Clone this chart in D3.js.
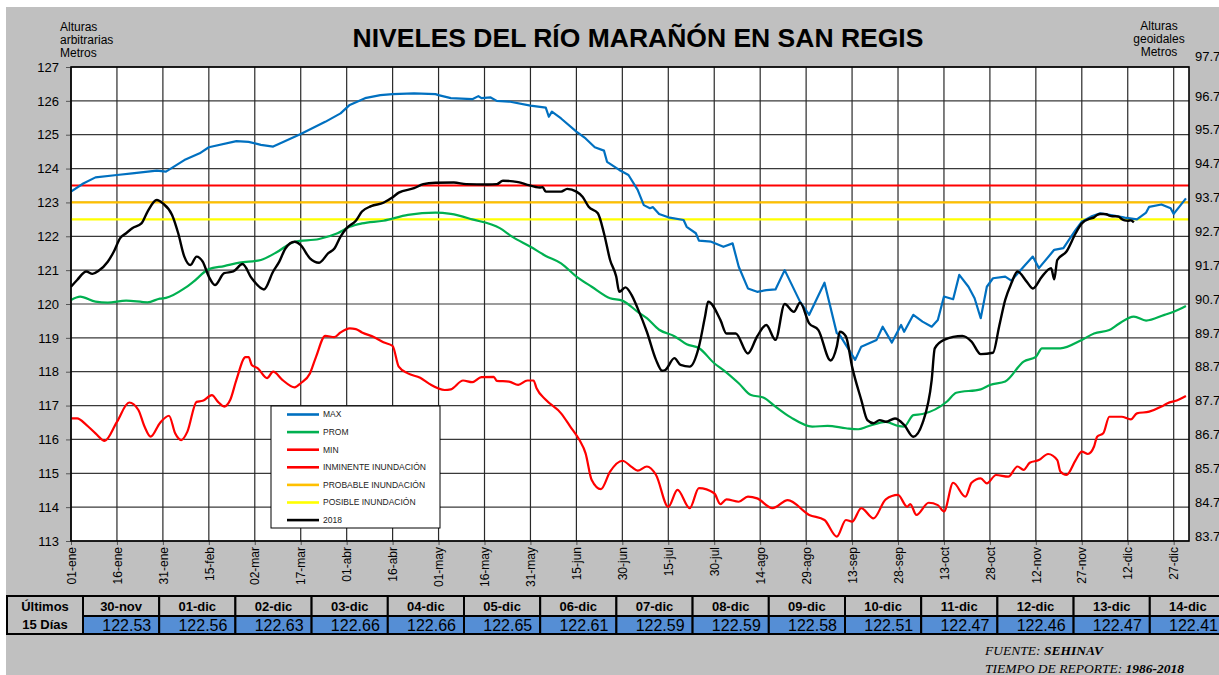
<!DOCTYPE html>
<html>
<head>
<meta charset="utf-8">
<script src="https://cdnjs.cloudflare.com/ajax/libs/d3/7.8.5/d3.min.js"></script>
<style>
  body { margin: 0; background: #fff; }
  svg { display: block; font-family: "Liberation Sans", Arial, sans-serif; }
</style>
</head>
<body>
<svg id="chart" width="1219" height="675"></svg>
<script>
// niveles diarios: [dia del año, nivel (m)]
const serieMax = [[0,123.32],[4,123.56],[8,123.74],[15,123.81],[20,123.86],[28,123.94],[31,123.91],[37,124.25],[42,124.45],[45,124.63],[54,124.81],[58,124.79],[62,124.70],[66,124.65],[68,124.73],[75,125.02],[83,125.38],[88,125.63],[91,125.88],[96,126.08],[101,126.17],[105,126.20],[112,126.22],[119,126.20],[120,126.17],[124,126.08],[131,126.05],[133,126.14],[134,126.08],[137,126.10],[139,126.00],[143,125.98],[150,125.86],[155,125.80],[156,125.53],[157,125.68],[160,125.48],[165,125.09],[168,124.89],[171,124.63],[174,124.53],[175,124.20],[179,123.96],[182,123.81],[185,123.37],[187,122.92],[189,122.83],[190,122.86],[192,122.66],[195,122.56],[200,122.48],[201,122.28],[204,122.09],[205,121.87],[209,121.84],[213,121.69],[216,121.79],[218,121.10],[221,120.46],[224,120.36],[227,120.41],[230,120.43],[233,121.00],[238,120.07],[241,119.68],[246,120.63],[250,119.14],[251,119.08],[256,118.35],[258,118.74],[263,118.94],[265,119.33],[268,118.86],[271,119.38],[272,119.18],[275,119.68],[278,119.48],[281,119.33],[283,119.53],[285,120.22],[288,120.14],[290,120.86],[293,120.51],[295,120.17],[297,119.58],[299,120.51],[301,120.76],[305,120.81],[307,120.69],[311,121.10],[314,121.40],[316,121.06],[321,121.60],[324,121.65],[328,122.19],[330,122.43],[333,122.58],[336,122.68],[340,122.62],[344,122.55],[348,122.50],[351,122.70],[352,122.87],[356,122.94],[359,122.83],[360,122.66],[364,123.12]];

const serieProm = [[0,120.12],[3,120.22],[8,120.07],[12,120.04],[18,120.10],[25,120.05],[29,120.16],[31,120.18],[37,120.46],[40,120.66],[45,121.03],[50,121.12],[55,121.22],[62,121.30],[67,121.52],[73,121.84],[81,121.92],[87,122.09],[91,122.28],[95,122.38],[102,122.46],[110,122.63],[119,122.70],[124,122.66],[131,122.50],[140,122.24],[144,121.99],[150,121.69],[155,121.42],[160,121.20],[165,120.81],[170,120.51],[176,120.17],[180,120.10],[185,119.77],[188,119.58],[192,119.24],[197,119.05],[201,118.81],[205,118.70],[210,118.25],[213,118.05],[218,117.66],[222,117.31],[226,117.24],[230,116.97],[235,116.65],[242,116.38],[247,116.40],[253,116.33],[257,116.30],[260,116.38],[266,116.52],[270,116.40],[272,116.38],[275,116.72],[278,116.75],[286,117.12],[289,117.38],[297,117.48],[300,117.61],[305,117.71],[311,118.30],[315,118.44],[317,118.69],[323,118.69],[330,118.94],[334,119.13],[339,119.23],[342,119.41],[347,119.63],[351,119.51],[357,119.68],[360,119.77],[364,119.94]];

const serieMin = [[0,116.62],[2,116.62],[5,116.43],[8,116.18],[11,115.96],[15,116.52],[19,117.09],[22,116.87],[24,116.38],[26,116.08],[29,116.48],[32,116.70],[34,116.18],[36,115.98],[38,116.23],[41,117.11],[43,117.14],[46,117.31],[48,117.11],[50,116.97],[52,117.17],[54,117.76],[57,118.43],[58,118.43],[59,118.20],[61,118.10],[64,117.81],[66,118.00],[69,117.76],[73,117.54],[75,117.66],[78,117.95],[80,118.44],[83,119.06],[86,119.02],[88,119.16],[91,119.28],[93,119.26],[95,119.16],[99,119.02],[102,118.87],[105,118.76],[107,118.15],[110,117.95],[114,117.82],[117,117.64],[122,117.46],[124,117.48],[128,117.74],[131,117.69],[134,117.84],[138,117.85],[139,117.73],[143,117.71],[146,117.61],[149,117.74],[151,117.74],[152,117.51],[155,117.17],[160,116.77],[163,116.38],[166,115.98],[168,115.59],[170,114.80],[173,114.53],[176,115.05],[180,115.37],[183,115.19],[185,115.08],[188,115.20],[191,114.95],[195,114.01],[198,114.51],[202,113.97],[205,114.56],[210,114.41],[212,114.09],[214,114.23],[218,114.16],[221,114.31],[224,114.26],[229,113.97],[234,114.21],[241,113.77],[246,113.62],[250,113.13],[253,113.62],[255,113.57],[258,113.97],[262,113.67],[266,114.23],[270,114.36],[273,114.01],[274,114.09],[276,113.77],[280,114.13],[283,114.06],[285,113.87],[288,114.72],[292,114.31],[294,114.72],[297,114.85],[299,114.70],[302,114.95],[306,114.90],[309,115.20],[311,115.10],[313,115.31],[316,115.39],[319,115.57],[322,115.39],[323,115.05],[325,114.95],[328,115.39],[330,115.64],[332,115.57],[334,115.79],[335,116.08],[337,116.18],[339,116.67],[343,116.67],[346,116.59],[348,116.77],[352,116.82],[356,116.97],[358,117.07],[361,117.15],[364,117.28]];

const serie2018 = [[0,120.51],[2,120.71],[5,120.96],[7,120.89],[9,120.98],[12,121.25],[14,121.55],[16,121.94],[18,122.09],[20,122.24],[23,122.38],[25,122.73],[28,123.07],[30,122.97],[33,122.63],[35,122.09],[37,121.40],[39,121.15],[41,121.40],[43,121.25],[45,120.81],[47,120.56],[50,120.91],[53,120.96],[56,121.18],[59,120.76],[63,120.43],[66,120.96],[68,121.25],[70,121.64],[73,121.84],[75,121.74],[78,121.35],[81,121.22],[84,121.50],[86,121.64],[88,121.99],[90,122.24],[93,122.46],[95,122.73],[98,122.89],[102,122.99],[105,123.15],[107,123.29],[112,123.42],[115,123.54],[119,123.58],[125,123.59],[129,123.54],[136,123.53],[139,123.54],[141,123.64],[146,123.60],[149,123.52],[153,123.44],[154,123.45],[155,123.32],[160,123.32],[162,123.40],[165,123.32],[167,123.17],[169,122.87],[172,122.68],[174,122.09],[176,121.30],[178,120.81],[179,120.36],[181,120.49],[183,120.27],[185,119.87],[188,119.18],[191,118.35],[193,118.03],[194,118.05],[197,118.40],[199,118.20],[202,118.15],[205,118.74],[207,119.63],[208,120.07],[212,119.53],[214,119.13],[217,119.13],[221,118.54],[224,119.04],[227,119.38],[230,118.94],[233,120.00],[236,119.77],[238,120.04],[241,119.43],[244,119.23],[248,118.33],[250,118.74],[251,119.18],[253,119.04],[255,118.15],[258,117.17],[260,116.57],[262,116.48],[264,116.57],[266,116.52],[269,116.62],[272,116.43],[275,116.08],[278,116.48],[281,117.76],[282,118.69],[285,118.94],[291,119.06],[294,118.89],[297,118.52],[301,118.56],[303,119.33],[305,120.12],[307,120.61],[309,120.96],[312,120.66],[314,120.46],[317,120.81],[320,121.06],[321,120.73],[322,121.30],[325,121.55],[328,122.09],[330,122.38]];

// ultimos 15 dias (tabla inferior); 30-nov es el dia 333 del año
const ultimasFechas = ['30-nov','01-dic','02-dic','03-dic','04-dic','05-dic','06-dic','07-dic','08-dic','09-dic','10-dic','11-dic','12-dic','13-dic','14-dic'];
const ultimosValores = [122.53,122.56,122.63,122.66,122.66,122.65,122.61,122.59,122.59,122.58,122.51,122.47,122.46,122.47,122.41];
const primerDiaTabla = 333;

const umbralNombres = ['INMINENTE INUNDACIÓN','PROBABLE INUNDACIÓN','POSIBLE INUNDACIÓN'];
const umbralValores = [123.5, 123.0, 122.5];

// etiquetas del eje x, una cada 15 dias
const etiquetasX = ['01-ene','16-ene','31-ene','15-feb','02-mar','17-mar','01-abr','16-abr','01-may','16-may','31-may','15-jun','30-jun','15-jul','30-jul','14-ago','29-ago','13-sep','28-sep','13-oct','28-oct','12-nov','27-nov','12-dic','27-dic'];

const leyenda = ['MAX','PROM','MIN','INMINENTE INUNDACIÓN','PROBABLE INUNDACIÓN','POSIBLE INUNDACIÓN','2018'];

const colores = {
  'MAX': '#0070c0',
  'PROM': '#00b050',
  'MIN': '#ff0000',
  'INMINENTE INUNDACIÓN': '#ff0000',
  'PROBABLE INUNDACIÓN': '#ffc000',
  'POSIBLE INUNDACIÓN': '#ffff00',
  '2018': '#000000',
};

const svg = d3.select('#chart');

const plot = { left: 71, top: 67, right: 1189, bottom: 541 };

const x = d3.scaleLinear().domain([0, 365]).range([plot.left, plot.right]);
const y = d3.scaleLinear().domain([113, 127]).range([plot.bottom, plot.top]);
const y2 = d3.scaleLinear().domain([83.7, 97.7]).range([plot.bottom, plot.top]);

// fondo
svg.append('rect')
  .attr('x', 6).attr('y', 7)
  .attr('width', 1213).attr('height', 668)
  .attr('fill', '#c0c0c0');

svg.append('rect')
  .attr('x', plot.left).attr('y', plot.top)
  .attr('width', plot.right - plot.left).attr('height', plot.bottom - plot.top)
  .attr('fill', '#fff');

// titulo y rotulos
svg.append('text')
  .attr('x', 638).attr('y', 47)
  .attr('text-anchor', 'middle')
  .style('font-size', '26.5px')
  .style('font-weight', 'bold')
  .text('NIVELES DEL RÍO MARAÑÓN EN SAN REGIS');

const rotIzq = svg.append('text')
  .style('font-size', '12px');
['Alturas', 'arbitrarias', 'Metros'].forEach((t, i) => {
  rotIzq.append('tspan').attr('x', 60).attr('y', 31 + i * 13).text(t);
});

const rotDer = svg.append('text')
  .attr('text-anchor', 'middle')
  .style('font-size', '12px');
['Alturas', 'geoidales', 'Metros'].forEach((t, i) => {
  rotDer.append('tspan').attr('x', 1159).attr('y', 30 + i * 13).text(t);
});

// rejilla
const dias = etiquetasX.map((d, i) => i * 15);

svg.append('g')
  .selectAll('line')
  .data(d3.range(113, 128))
  .join('line')
  .attr('x1', plot.left).attr('x2', plot.right)
  .attr('y1', d => y(d)).attr('y2', d => y(d))
  .attr('stroke', '#3a3a3a')
  .attr('stroke-width', 1.2);

svg.append('g')
  .selectAll('line')
  .data(dias)
  .join('line')
  .attr('x1', d => x(d)).attr('x2', d => x(d))
  .attr('y1', plot.top).attr('y2', plot.bottom)
  .attr('stroke', '#2a2a2a')
  .attr('stroke-width', 1.2);

// ejes
const ejeIzq = svg.append('g')
  .attr('transform', `translate(${plot.left},0)`)
  .call(d3.axisLeft(y).tickValues(d3.range(113, 128)).tickSize(5).tickPadding(7).tickFormat(d3.format('d')));
ejeIzq.select('.domain').remove();
ejeIzq.selectAll('line').attr('stroke', '#555');
ejeIzq.selectAll('text').style('font-size', '13px').attr('fill', '#000');

const ticksDer = d3.range(15).map(i => 83.7 + i);
const ejeDer = svg.append('g')
  .attr('transform', `translate(${plot.right},0)`)
  .call(d3.axisRight(y2).tickValues(ticksDer).tickSize(0).tickPadding(6).tickFormat(d3.format('.1f')));
ejeDer.select('.domain').remove();
ejeDer.selectAll('text')
  .style('font-size', '13px')
  .attr('fill', '#000')
  .attr('y', (d, i) => (i === ticksDer.length - 1 ? -11 : -5));

const ejeX = svg.append('g')
  .attr('transform', `translate(0,${plot.bottom})`)
  .call(d3.axisBottom(x).tickValues(dias).tickSize(4).tickFormat((d, i) => etiquetasX[i]));
ejeX.select('.domain').remove();
ejeX.selectAll('line').attr('stroke', '#555');
ejeX.selectAll('text')
  .attr('transform', 'rotate(-90)')
  .attr('x', -6)
  .attr('y', 0)
  .attr('dy', '0.35em')
  .style('text-anchor', 'end')
  .style('font-size', '12px')
  .attr('fill', '#000');

// umbrales de inundacion
svg.append('g')
  .selectAll('line')
  .data(umbralValores)
  .join('line')
  .attr('x1', plot.left).attr('x2', plot.right)
  .attr('y1', d => y(d)).attr('y2', d => y(d))
  .attr('stroke', (d, i) => colores[umbralNombres[i]])
  .attr('stroke-width', 2.2);

// series
const linea = d3.line()
  .x(d => x(d[0]))
  .y(d => y(d[1]));

const serie2018Completa = serie2018.concat(ultimosValores.map((v, i) => [primerDiaTabla + i, v]));

const series = [
  { nombre: 'MAX', datos: serieMax, curva: d3.curveLinear, ancho: 2.2 },
  { nombre: 'PROM', datos: serieProm, curva: d3.curveMonotoneX, ancho: 2.2 },
  { nombre: 'MIN', datos: serieMin, curva: d3.curveMonotoneX, ancho: 2.2 },
  { nombre: '2018', datos: serie2018Completa, curva: d3.curveMonotoneX, ancho: 2.4 },
];

svg.append('g')
  .selectAll('path')
  .data(series)
  .join('path')
  .attr('d', s => linea.curve(s.curva)(s.datos))
  .attr('fill', 'none')
  .attr('stroke', s => colores[s.nombre])
  .attr('stroke-width', s => s.ancho)
  .attr('stroke-linejoin', 'round');

// marco del area de trazado
svg.append('rect')
  .attr('x', plot.left).attr('y', plot.top)
  .attr('width', plot.right - plot.left).attr('height', plot.bottom - plot.top)
  .attr('fill', 'none')
  .attr('stroke', '#000')
  .attr('stroke-width', 1.6);

// leyenda
const ley = svg.append('g').attr('transform', 'translate(271,406)');
ley.append('rect')
  .attr('width', 169).attr('height', 122)
  .attr('fill', '#fff')
  .attr('stroke', '#000')
  .attr('stroke-width', 1);
const item = ley.selectAll('g')
  .data(leyenda)
  .join('g')
  .attr('transform', (d, i) => `translate(0,${8.5 + i * 17.6})`);
item.append('line')
  .attr('x1', 16).attr('x2', 48)
  .attr('stroke', d => colores[d])
  .attr('stroke-width', 2.6);
item.append('text')
  .attr('x', 52)
  .attr('dy', '0.35em')
  .style('font-size', '8.5px')
  .attr('fill', '#222')
  .text(d => d);

// tabla de los ultimos 15 dias
const tabla = { x0: 7, x1: 83, col: 76.2, y0: 596, y1: 616, y2: 634 };
const tg = svg.append('g');

tg.selectAll('rect.val')
  .data(ultimosValores)
  .join('rect')
  .attr('class', 'val')
  .attr('x', (d, i) => tabla.x1 + i * tabla.col)
  .attr('y', tabla.y1)
  .attr('width', tabla.col)
  .attr('height', tabla.y2 - tabla.y1)
  .attr('fill', '#558ed5')
  .attr('stroke', '#000')
  .attr('stroke-width', 2);

tg.selectAll('rect.enc')
  .data(ultimasFechas)
  .join('rect')
  .attr('class', 'enc')
  .attr('x', (d, i) => tabla.x1 + i * tabla.col)
  .attr('y', tabla.y0)
  .attr('width', tabla.col)
  .attr('height', tabla.y1 - tabla.y0)
  .attr('fill', '#c0c0c0')
  .attr('stroke', '#000')
  .attr('stroke-width', 2);

tg.append('rect')
  .attr('x', tabla.x0).attr('y', tabla.y0)
  .attr('width', tabla.x1 - tabla.x0).attr('height', tabla.y2 - tabla.y0)
  .attr('fill', '#c0c0c0')
  .attr('stroke', '#000')
  .attr('stroke-width', 2);

tg.append('text')
  .attr('x', (tabla.x0 + tabla.x1) / 2).attr('y', 611)
  .attr('text-anchor', 'middle')
  .style('font-size', '13px').style('font-weight', 'bold')
  .text('Últimos');
tg.append('text')
  .attr('x', (tabla.x0 + tabla.x1) / 2).attr('y', 629)
  .attr('text-anchor', 'middle')
  .style('font-size', '13px').style('font-weight', 'bold')
  .text('15 Días');

tg.selectAll('text.enc')
  .data(ultimasFechas)
  .join('text')
  .attr('class', 'enc')
  .attr('x', (d, i) => tabla.x1 + (i + 0.5) * tabla.col)
  .attr('y', 611)
  .attr('text-anchor', 'middle')
  .style('font-size', '13px').style('font-weight', 'bold')
  .text(d => d);

tg.selectAll('text.val')
  .data(ultimosValores)
  .join('text')
  .attr('class', 'val')
  .attr('x', (d, i) => tabla.x1 + (i + 1) * tabla.col - 8)
  .attr('y', 631)
  .attr('text-anchor', 'end')
  .style('font-size', '16px')
  .text(d => d3.format('.2f')(d));

// fuente
const pie = svg.append('g')
  .style('font-family', '"Liberation Serif", "Times New Roman", serif')
  .style('font-style', 'italic')
  .style('font-size', '13.5px');
const f1 = pie.append('text').attr('x', 985).attr('y', 655);
f1.append('tspan').text('FUENTE: ');
f1.append('tspan').style('font-weight', 'bold').text('SEHINAV');
const f2 = pie.append('text').attr('x', 985).attr('y', 673);
f2.append('tspan').text('TIEMPO DE REPORTE: ');
f2.append('tspan').style('font-weight', 'bold').text('1986-2018');
</script>
</body>
</html>
